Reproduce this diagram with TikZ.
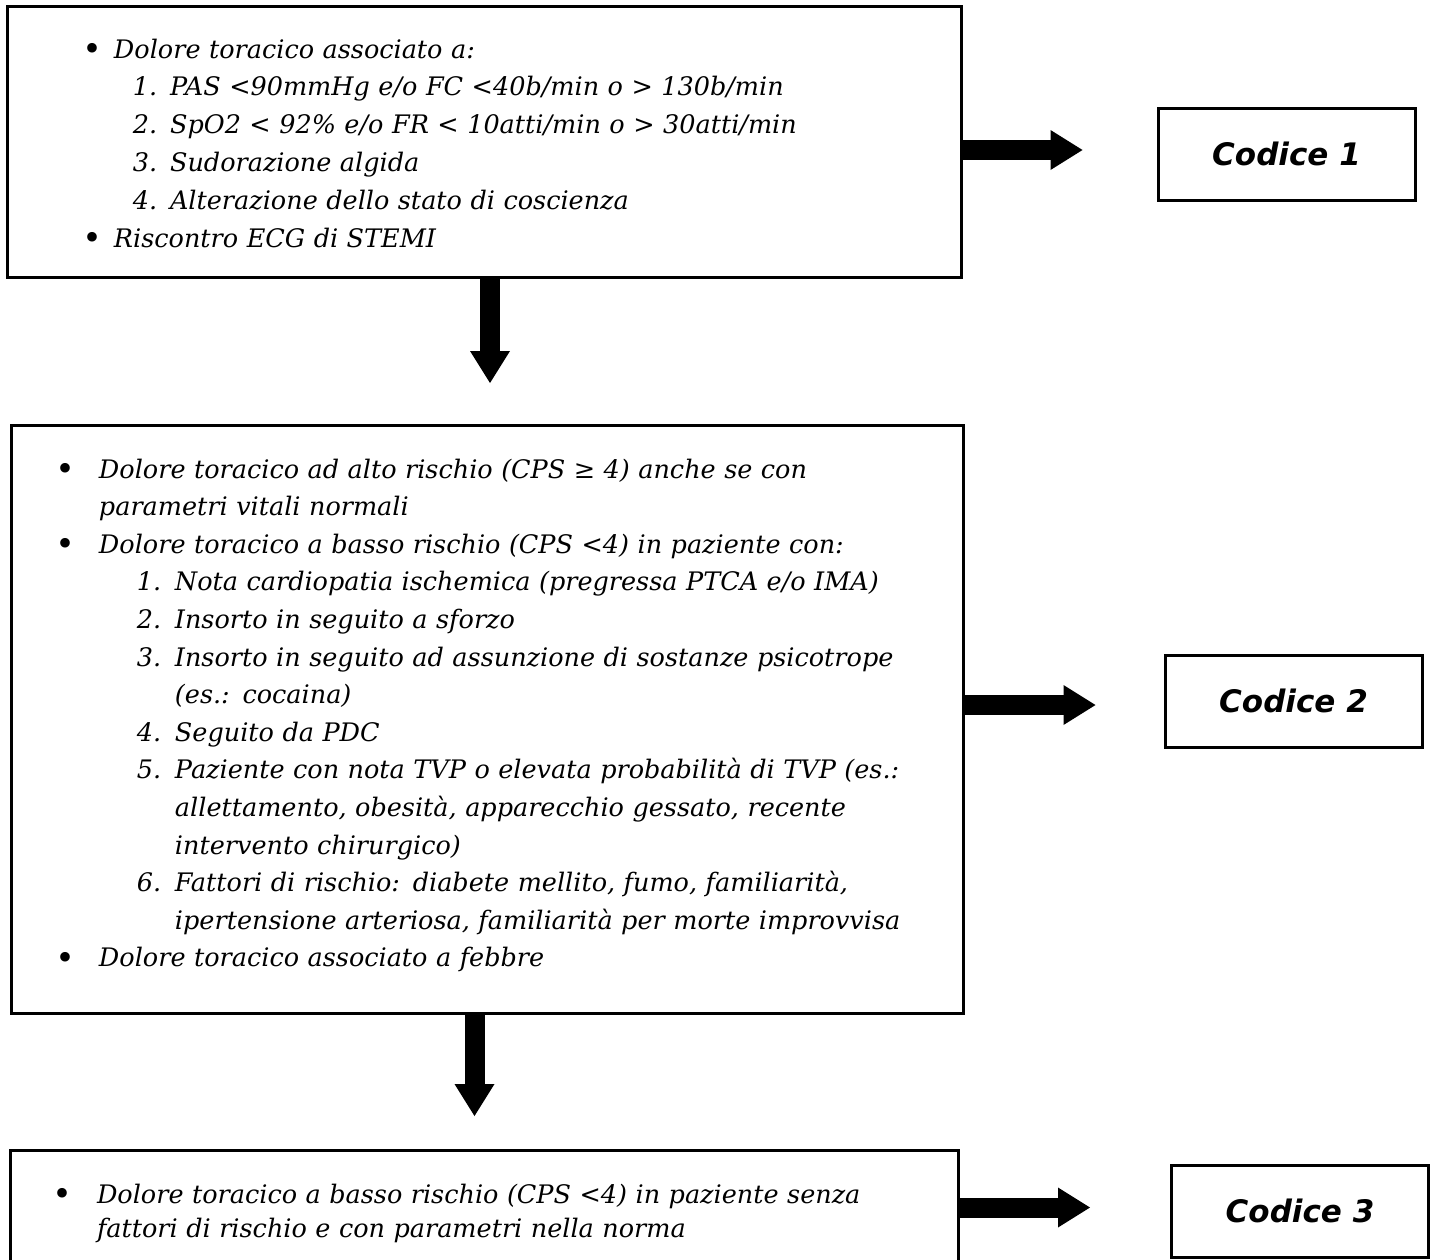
\documentclass[tikz,border=0pt]{standalone}
\usepackage{fontspec}
\setmainfont{DejaVu Serif}
\newfontfamily\codefont{DejaVu Sans}
\usetikzlibrary{arrows.meta}

\tikzset{
  critbox/.style={draw, line width=3pt, rectangle, outer sep=0pt,
    inner xsep=0pt, inner ysep=0pt, anchor=north west, align=left},
  codebox/.style={draw, line width=3pt, rectangle, minimum width=257pt,
    minimum height=92pt, font=\codefont\bfseries\itshape\fontsize{31}{36}\selectfont},
  bigarrow/.style={line width=20pt, -{Triangle[length=32pt, width=40pt, line width=0pt]}},
}
\newcommand{\blt}{\makebox[0pt]{\raisebox{-2.5pt}{\upshape\fontsize{33}{33}\selectfont\textbullet}}}

\begin{document}
\begin{tikzpicture}[x=1pt, y=-1pt]
        \useasboundingbox (0,0) rectangle (1430,1259);
        \clip (0,0) rectangle (1430,1259);

        % first box
        \node[critbox, text width=954pt, text height=52pt, text depth=219pt,
            font=\itshape\fontsize{25.5}{37.8}\selectfont] (crit1) at (7,6) {%
            \hspace*{85pt}\blt\hspace*{22pt}Dolore toracico associato a:\\
            \hspace*{126pt}1. PAS <90mmHg e/o FC <40b/min o > 130b/min\\
            \hspace*{126pt}2. SpO2 < 92\% e/o FR < 10atti/min o > 30atti/min\\
            \hspace*{126pt}3. Sudorazione algida\\
            \hspace*{126pt}4. Alterazione dello stato di coscienza\\
            \hspace*{85pt}\blt\hspace*{22pt}Riscontro ECG di STEMI};

        % second box
        \node[critbox, text width=952pt, text height=53pt, text depth=535pt,
            font=\itshape\fontsize{25.5}{37.6}\selectfont] (crit2) at (11,425) {%
            \hspace*{54pt}\blt\hspace*{34pt}Dolore toracico ad alto rischio (CPS ≥ 4) anche se con\\
            \hspace*{88pt}parametri vitali normali\\
            \hspace*{54pt}\blt\hspace*{34pt}Dolore toracico a basso rischio (CPS <4) in paziente con:\\
            \hspace*{126pt}\makebox[38pt][l]{1.}Nota cardiopatia ischemica (pregressa PTCA e/o IMA)\\
            \hspace*{126pt}\makebox[38pt][l]{2.}Insorto in seguito a sforzo\\
            \hspace*{126pt}\makebox[38pt][l]{3.}Insorto in seguito ad assunzione di sostanze psicotrope\\
            \hspace*{164pt}(es.: cocaina)\\
            \hspace*{126pt}\makebox[38pt][l]{4.}Seguito da PDC\\
            \hspace*{126pt}\makebox[38pt][l]{5.}Paziente con nota TVP o elevata probabilità di TVP (es.:\\
            \hspace*{164pt}allettamento, obesità, apparecchio gessato, recente\\
            \hspace*{164pt}intervento chirurgico)\\
            \hspace*{126pt}\makebox[38pt][l]{6.}Fattori di rischio: diabete mellito, fumo, familiarità,\\
            \hspace*{164pt}ipertensione arteriosa, familiarità per morte improvvisa\\
            \hspace*{54pt}\blt\hspace*{34pt}Dolore toracico associato a febbre};

        % third box
        \node[critbox, text width=948pt, text height=53pt, text depth=72pt,
            font=\itshape\fontsize{25.5}{34}\selectfont] (crit3) at (10,1150) {%
            \hspace*{52pt}\blt\hspace*{35pt}Dolore toracico a basso rischio (CPS <4) in paziente senza\\
            \hspace*{87pt}fattori di rischio e con parametri nella norma};

        % codes
        \node[codebox] (code1) at (1286.5,154) {Codice 1};
        \node[codebox] (code2) at (1293.5,701) {Codice 2};
        \node[codebox] (code3) at (1300,1211) {Codice 3};

        % arrows
        \coordinate (tip1) at ([xshift=-74pt, yshift=4pt]code1.west);
        \coordinate (tip2) at ([xshift=-68pt, yshift=-4pt]code2.west);
        \coordinate (tip3) at ([xshift=-80pt, yshift=3.5pt]code3.west);
        \coordinate (tip4) at ([xshift=3pt, yshift=42pt]crit2.north);
        \coordinate (tip5) at ([xshift=-9.5pt, yshift=34pt]crit3.north);

        \draw[bigarrow] (crit1.east |- tip1) -- (tip1);
        \draw[bigarrow] (crit2.east |- tip2) -- (tip2);
        \draw[bigarrow] (crit3.east |- tip3) -- (tip3);
        \draw[bigarrow] (crit1.south -| tip4) -- (tip4);
        \draw[bigarrow] (crit2.south -| tip5) -- (tip5);
\end{tikzpicture}
\end{document}
